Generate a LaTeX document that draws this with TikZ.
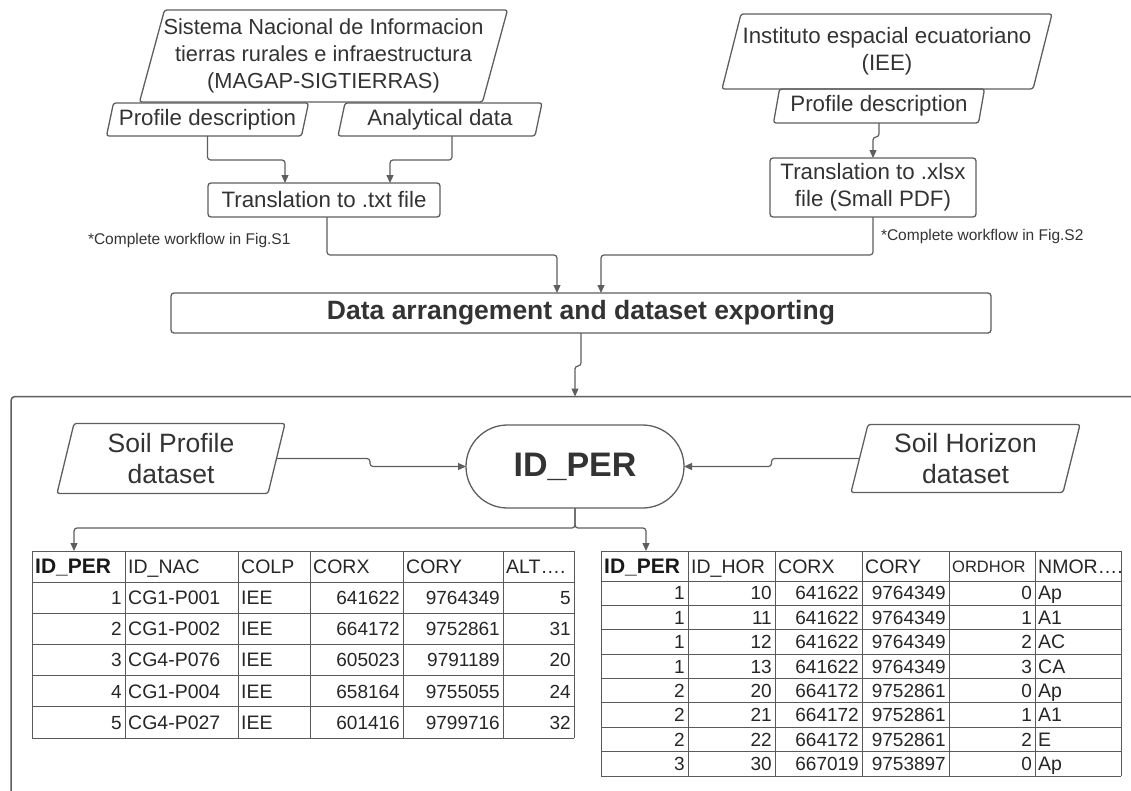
\documentclass[tikz,border=0pt]{standalone}
\usepackage{fontspec}
\setmainfont{Liberation Sans}
\usetikzlibrary{arrows.meta,calc}
\definecolor{ln}{HTML}{5E5E5E}
\definecolor{tx}{HTML}{333333}
\definecolor{tb}{HTML}{5A5A5A}
\newcommand\myfs[2]{\fontsize{#1}{#2}\selectfont}
\tikzset{
  conn/.style={draw=ln, line width=1.2pt, rounded corners=3pt},
  arr/.style={conn, -{Triangle[length=8pt,width=7pt]}},
  shp/.style={draw=ln, line width=1.3pt, rounded corners=2.5pt},
  lbl/.style={text=tx, inner sep=0pt, outer sep=0pt, align=center},
  big/.style={lbl, font=\myfs{22.3}{27}},
  mid/.style={lbl, font=\myfs{26.5}{31}},
  boxed/.style={lbl, draw=ln, line width=1.3pt, rounded corners=3pt},
  note/.style={text=tx, inner sep=0pt, outer sep=0pt, font=\myfs{15.5}{18}},
  grid/.style={draw=tb, line width=1pt},
  cellr/.style={text=black!85, inner sep=0pt, anchor=base east, font=\myfs{19}{20}},
  celll/.style={text=black!85, inner sep=0pt, anchor=base west, font=\myfs{19.5}{20}},
  headl/.style={text=black!85, inner sep=0pt, anchor=base west, font=\myfs{19.5}{20}},
  headb/.style={text=black!90, inner sep=0pt, anchor=base west, font=\myfs{21}{22}\bfseries},
}
% name, cx, cy, width, height, half slant, style, text
\newcommand\para[8]{%
  \node[#7, minimum width=#4pt, minimum height=#5pt] (#1) at (#2,#3) {#8};
  \draw[shp] ([xshift=#6pt]#1.north west) -- ([xshift=#6pt]#1.north east)
     -- ([xshift=-#6pt]#1.south east) -- ([xshift=-#6pt]#1.south west) -- cycle;
}
\begin{document}
\begin{tikzpicture}[x=1pt,y=-1pt]
\useasboundingbox (0,0) rectangle (1131,790);
\clip (0,0) rectangle (1131,790);

% ---------- top left branch
\para{magap}{323.5}{56}{343}{92}{12.5}{lbl, font=\myfs{21.8}{27}}{Sistema Nacional de Informacion\\tierras rurales e infraestructura\\(MAGAP-SIGTIERRAS)}
\para{pd1}{207.5}{119.5}{195}{33}{3.5}{big}{Profile description}
\para{ad}{440}{119.5}{197}{33}{3.5}{big}{Analytical data}
\node[boxed, font=\myfs{22.3}{27}, minimum width=232pt, minimum height=34pt] (txt) at (324,200) {Translation to .txt file};
\node[note, anchor=west] (n1) at (88,240) {*Complete workflow in Fig.S1};

% ---------- top right branch
\para{iee}{887}{51.5}{311}{75}{9.5}{big}{Instituto espacial ecuatoriano\\(IEE)}
\para{pd2}{879}{106}{205}{34}{3}{big}{Profile description}
\node[boxed, font=\myfs{22.3}{27}, minimum width=206pt, minimum height=59pt] (xlsx) at (873,187.5) {Translation to .xlsx\\file (Small PDF)};
\node[note, anchor=west] (n2) at (881,236) {*Complete workflow in Fig.S2};

% ---------- data arrangement
\node[boxed, font=\myfs{26.5}{30}\bfseries, minimum width=820pt, minimum height=40pt] (data) at (581,313) {Data arrangement and dataset exporting};

\draw[arr] (pd1.south) -- ++(0,24) -| ([xshift=-39pt]txt.north);
\draw[arr] ([xshift=12pt]ad.south) -- ++(0,24) -| ([xshift=66pt]txt.north);
\draw[arr] (pd2.south) -- ++(0,14) -- ++(-6,0) -- (xlsx.north);
\draw[arr] ([xshift=3pt]txt.south) -- ++(0,38) -| ([xshift=-24pt]data.north);
\draw[arr] (xlsx.south) -- ++(0,38) -| ([xshift=20pt]data.north);

% ---------- frame
\coordinate (ftop) at (575,396.5);
\draw[draw=ln, line width=1.5pt, rounded corners=4pt] (1160,396.5) -- (11,396.5) -- (11,820);
\draw[arr] (data.south) -- ++(0,33) -- ++(-6,0) -- (ftop);

% ---------- ID_PER
\node[lbl, draw=ln, line width=1.3pt, rounded corners=41.5pt, minimum width=218pt, minimum height=83pt, font=\myfs{34}{36}\bfseries] (id) at (575,466.5) {ID\_PER};
\para{sp}{171}{458.5}{211}{70}{8.5}{mid}{Soil Profile\\dataset}
\para{sh}{965.5}{458.5}{212}{68}{8.5}{mid}{Soil Horizon\\dataset}
\draw[arr] (sp.east) -- ++(93.5,0) -- ++(0,8) -- (id.west);
\draw[arr] (sh.west) -- ++(-88,0) -- ++(0,8) -- (id.east);

% ---------- tables
\node[inner sep=0pt, outer sep=0pt, minimum width=542pt, minimum height=187pt, anchor=north west] (ltab) at (32,551) {};
\node[inner sep=0pt, outer sep=0pt, minimum width=520pt, minimum height=225pt, anchor=north west] (rtab) at (601,551) {};
\draw[arr] (id.south) -- ++(0,20) -| ([xshift=42pt]ltab.north west);
\draw[arr] (id.south) -- ++(0,20) -| ([xshift=45pt]rtab.north west);

% left table grid
\foreach \x in {32,125,238,310,403,503,574} \draw[grid] (\x,551) -- (\x,738);
\foreach \y in {551,582,613.2,644.4,675.6,706.8,738} \draw[grid] (32,\y) -- (574,\y);
% left header
\node[headb] (lh1) at (35,573.5) {ID\_PER};
\node[headl] (lh2) at (128,573.5) {ID\_NAC};
\node[headl] (lh3) at (241,573.5) {COLP};
\node[headl] (lh4) at (313,573.5) {CORX};
\node[headl] (lh5) at (406,573.5) {CORY};
\node[headl] (lh6) at (506,573.5) {ALT….};
\foreach \a/\b/\c/\d/\e/\f [count=\i] in {1/CG1-P001/IEE/641622/9764349/5,2/CG1-P002/IEE/664172/9752861/31,3/CG4-P076/IEE/605023/9791189/20,4/CG1-P004/IEE/658164/9755055/24,5/CG4-P027/IEE/601416/9799716/32}{
  \pgfmathsetmacro\yy{582+31.2*(\i-0.5)+6.8}
  \node[cellr] (l\i-a) at (122,\yy) {\a};
  \node[celll] (l\i-b) at (128,\yy) {\b};
  \node[celll] (l\i-c) at (241,\yy) {\c};
  \node[cellr] (l\i-d) at (400,\yy) {\d};
  \node[cellr] (l\i-e) at (500,\yy) {\e};
  \node[cellr] (l\i-f) at (571,\yy) {\f};
}

% right table grid
\foreach \x in {601,688,775,862,949,1035,1121} \draw[grid] (\x,551) -- (\x,776);
\draw[grid] (601,551) -- (1121,551);
\foreach \k in {0,...,8} \draw[grid] (601,581+24.375*\k) -- (1121,581+24.375*\k);
\node[headb] (rh1) at (604,573) {ID\_PER};
\node[headl] (rh2) at (691,573) {ID\_HOR};
\node[headl] (rh3) at (778,573) {CORX};
\node[headl] (rh4) at (865,573) {CORY};
\node[headl, font=\myfs{16.5}{18}] (rh5) at (952,572) {ORDHOR};
\node[headl] (rh6) at (1038,573) {NMOR….};
\foreach \a/\b/\c/\d/\e/\f [count=\i] in {1/10/641622/9764349/0/Ap,1/11/641622/9764349/1/A1,1/12/641622/9764349/2/AC,1/13/641622/9764349/3/CA,2/20/664172/9752861/0/Ap,2/21/664172/9752861/1/A1,2/22/664172/9752861/2/E,3/30/667019/9753897/0/Ap}{
  \pgfmathsetmacro\yy{581+24.375*(\i-0.5)+6.8}
  \node[cellr] (r\i-a) at (685,\yy) {\a};
  \node[cellr] (r\i-b) at (772,\yy) {\b};
  \node[cellr] (r\i-c) at (859,\yy) {\c};
  \node[cellr] (r\i-d) at (946,\yy) {\d};
  \node[cellr] (r\i-e) at (1032,\yy) {\e};
  \node[celll] (r\i-f) at (1038,\yy) {\f};
}
\end{tikzpicture}
\end{document}
